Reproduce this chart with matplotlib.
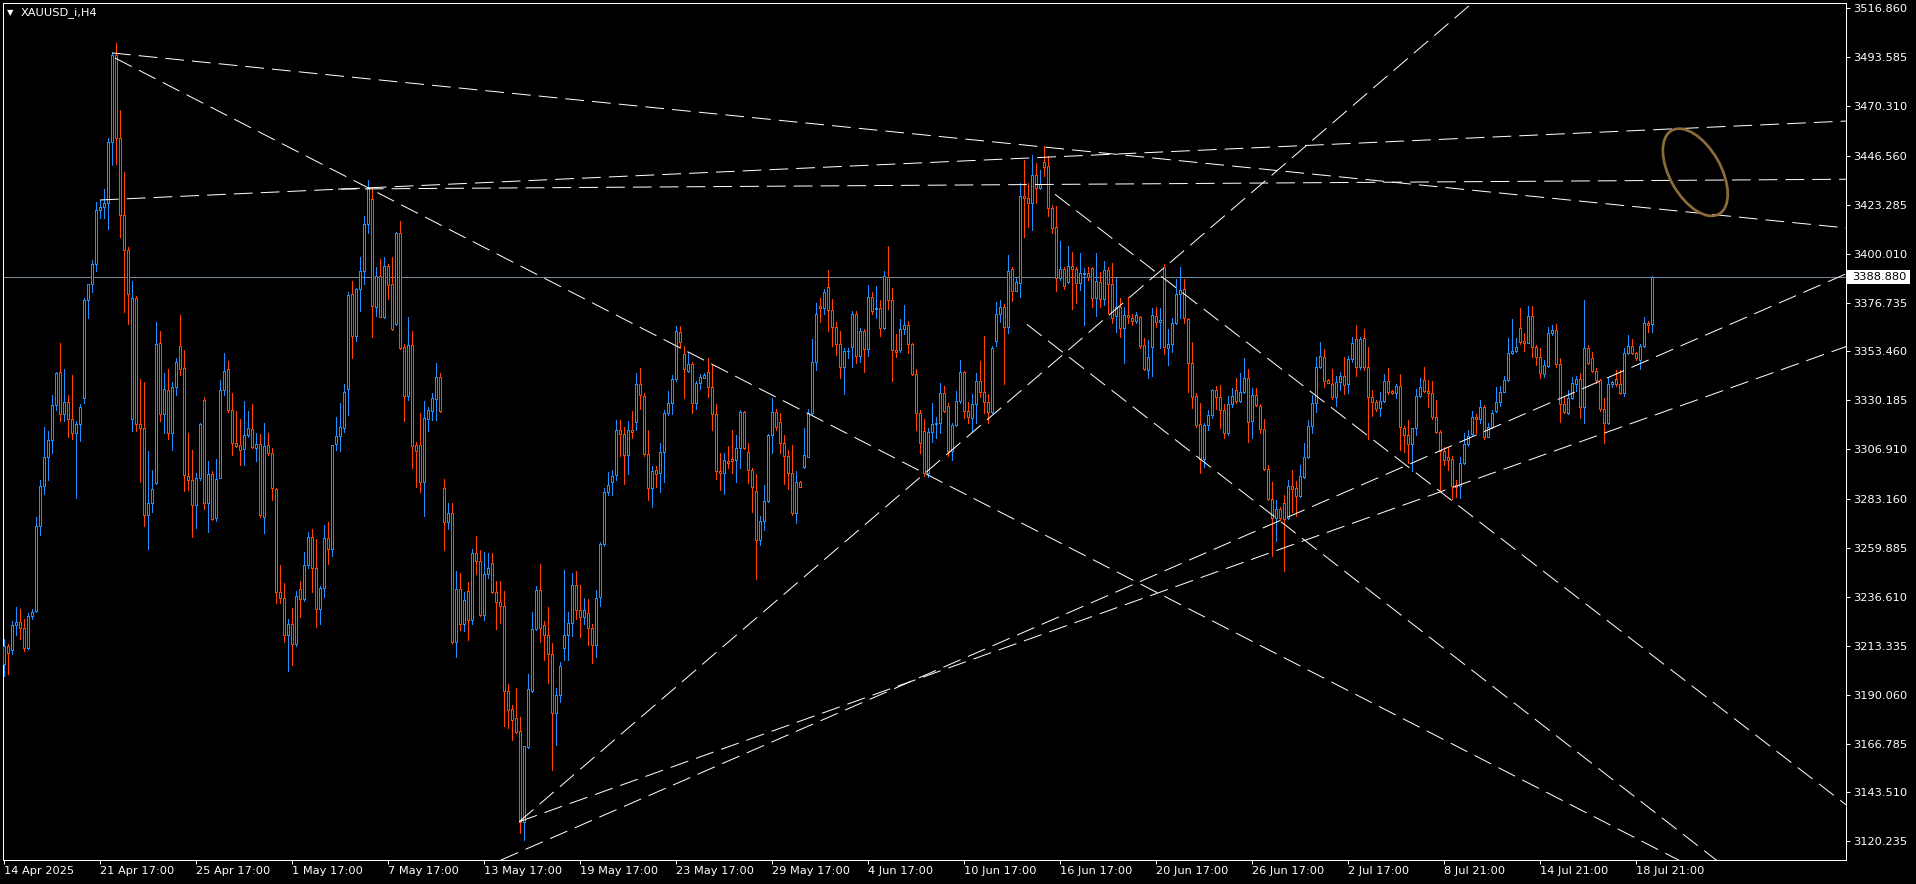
import matplotlib
matplotlib.use("Agg")
import matplotlib.pyplot as plt
import matplotlib.transforms as mtrans
from matplotlib.patches import Rectangle, Ellipse
from matplotlib.collections import LineCollection

W, H = 1916, 884
bull_color = "#1e90ff"
bear_color = "#ff4500"

# XAUUSD_i H4 bars, oldest first
opens = [
    3204.7, 3213.4, 3211.5, 3223.2, 3224.6, 3221.8, 3212.5, 3227.7, 3230.0, 3270.3,
    3289.4, 3303.0, 3311.4, 3328.0, 3343.9, 3323.5, 3329.3, 3321.2, 3314.7, 3319.0,
    3331.3, 3378.0, 3385.4, 3394.9, 3420.6, 3422.4, 3424.3, 3453.0, 3494.4, 3454.9,
    3418.5, 3401.8, 3321.5, 3379.0, 3319.0, 3317.2, 3275.8, 3281.2, 3290.7, 3357.6,
    3323.5, 3335.2, 3314.7, 3336.5, 3356.0, 3345.5, 3294.3, 3292.3, 3280.6, 3293.3,
    3330.3, 3281.2, 3295.2, 3274.4, 3293.3, 3335.2, 3345.3, 3325.4, 3309.9, 3308.9,
    3307.0, 3313.8, 3316.7, 3307.5, 3309.3, 3274.8, 3308.9, 3305.0, 3288.0, 3238.8,
    3236.2, 3218.3, 3223.6, 3214.0, 3240.5, 3235.8, 3251.8, 3265.0, 3250.4, 3231.0,
    3240.7, 3264.5, 3259.4, 3309.2, 3313.2, 3317.2, 3335.7, 3380.7, 3361.0, 3383.1,
    3392.0, 3414.1, 3426.0, 3374.6, 3389.3, 3370.1, 3394.1, 3385.6, 3366.5, 3409.7,
    3355.7, 3332.3, 3356.5, 3308.9, 3308.9, 3291.1, 3321.5, 3325.1, 3331.0, 3341.4,
    3288.3, 3272.4, 3276.6, 3215.0, 3240.5, 3223.5, 3239.4, 3225.6, 3257.5, 3253.7,
    3227.8, 3247.5, 3252.8, 3239.0, 3234.3, 3232.2, 3191.8, 3183.1, 3178.9, 3172.7,
    3129.6, 3165.3, 3191.8, 3221.4, 3239.7, 3223.1, 3218.4, 3209.3, 3181.2, 3189.7,
    3212.5, 3218.4, 3224.2, 3242.2, 3230.5, 3226.9, 3229.0, 3221.6, 3213.9, 3236.5,
    3262.0, 3286.6, 3291.5, 3294.7, 3316.2, 3314.0, 3304.3, 3316.2, 3319.8, 3337.8,
    3332.5, 3304.5, 3288.5, 3297.0, 3295.8, 3305.4, 3324.0, 3328.8, 3340.2, 3362.6,
    3352.1, 3344.3, 3347.4, 3328.8, 3338.3, 3341.0, 3343.5, 3336.4, 3323.5, 3296.6,
    3295.4, 3301.5, 3302.1, 3301.8, 3307.4, 3324.6, 3305.4, 3297.0, 3287.2, 3263.7,
    3272.8, 3282.3, 3313.5, 3324.5, 3320.0, 3309.7, 3303.7, 3295.4, 3276.7, 3291.2,
    3298.6, 3303.4, 3324.0, 3348.3, 3375.1, 3374.3, 3384.0, 3373.2, 3365.0, 3356.9,
    3345.9, 3353.5, 3355.8, 3371.2, 3351.3, 3363.2, 3354.5, 3379.2, 3373.5, 3374.0,
    3364.5, 3388.8, 3378.0, 3354.2, 3354.2, 3364.0, 3366.1, 3356.9, 3342.6, 3324.0,
    3315.6, 3295.8, 3315.0, 3318.8, 3319.3, 3333.5, 3327.7, 3306.2, 3318.5, 3329.9,
    3343.5, 3325.1, 3321.6, 3328.3, 3339.6, 3334.0, 3329.3, 3324.5, 3358.5, 3371.2,
    3374.8, 3365.3, 3392.6, 3382.4, 3386.2, 3427.5, 3426.4, 3424.3, 3437.5, 3431.1,
    3443.5, 3441.8, 3421.6, 3412.6, 3388.3, 3392.6, 3386.7, 3394.2, 3392.6, 3385.9,
    3390.2, 3390.7, 3393.1, 3378.8, 3386.4, 3378.3, 3392.3, 3385.4, 3370.5, 3374.5,
    3364.5, 3370.8, 3369.3, 3368.1, 3369.7, 3356.6, 3344.6, 3355.8, 3370.5, 3367.7,
    3393.5, 3355.3, 3356.9, 3366.9, 3380.8, 3383.0, 3368.8, 3347.8, 3332.4, 3318.8,
    3302.1, 3318.5, 3323.2, 3335.1, 3331.9, 3325.6, 3314.5, 3328.5, 3335.1, 3330.0,
    3334.3, 3340.7, 3320.4, 3332.7, 3327.5, 3316.6, 3297.4, 3283.1, 3274.3, 3278.3,
    3281.5, 3274.0, 3289.4, 3288.3, 3284.8, 3293.9, 3303.1, 3318.0, 3328.8, 3345.9,
    3350.7, 3339.9, 3337.8, 3332.0, 3338.8, 3341.8, 3337.8, 3349.7, 3359.2, 3345.9,
    3359.7, 3345.9, 3331.6, 3329.2, 3326.4, 3330.0, 3339.5, 3334.6, 3333.9, 3337.2,
    3316.9, 3313.7, 3309.3, 3316.9, 3332.3, 3339.9, 3334.8, 3333.9, 3322.1, 3315.3,
    3306.1, 3303.1, 3302.1, 3289.9, 3289.4, 3300.2, 3309.3, 3314.2, 3322.1, 3321.2,
    3326.9, 3312.9, 3317.4, 3325.3, 3329.6, 3334.3, 3339.9, 3352.6, 3353.7, 3364.5,
    3358.4, 3357.7, 3370.4, 3355.4, 3351.0, 3342.7, 3346.7, 3362.1, 3363.7, 3347.3,
    3328.3, 3324.0, 3331.5, 3338.0, 3340.2, 3326.9, 3354.9, 3350.2, 3344.2, 3339.9,
    3325.9, 3319.3, 3337.8, 3340.2, 3337.8, 3333.5, 3352.6, 3356.2, 3352.6, 3349.4,
    3356.2, 3366.9, 3366.5,
]
highs = [
    3216.4, 3214.4, 3225.1, 3232.0, 3231.0, 3226.1, 3229.1, 3231.0, 3274.8, 3292.3,
    3317.6, 3315.7, 3332.6, 3343.9, 3357.6, 3345.3, 3332.6, 3342.4, 3320.6, 3328.4,
    3379.0, 3385.8, 3397.1, 3424.7, 3425.7, 3430.6, 3454.9, 3495.8, 3500.3, 3468.5,
    3438.8, 3403.3, 3386.8, 3379.9, 3340.4, 3339.1, 3306.0, 3297.2, 3367.7, 3363.4,
    3343.0, 3344.9, 3338.7, 3350.2, 3370.6, 3354.2, 3314.7, 3306.4, 3295.6, 3319.6,
    3331.7, 3301.1, 3296.6, 3302.5, 3340.0, 3352.7, 3348.8, 3333.8, 3324.9, 3321.5,
    3329.9, 3324.9, 3328.4, 3314.7, 3314.3, 3319.6, 3314.7, 3307.5, 3288.4, 3251.8,
    3243.2, 3226.1, 3231.4, 3239.3, 3244.2, 3258.2, 3267.4, 3269.0, 3264.1, 3241.7,
    3270.9, 3272.3, 3308.9, 3322.5, 3328.9, 3337.8, 3381.8, 3387.1, 3383.5, 3398.4,
    3417.9, 3434.9, 3430.7, 3393.5, 3397.3, 3398.4, 3395.2, 3398.4, 3410.5, 3415.4,
    3357.0, 3369.7, 3363.3, 3310.2, 3324.4, 3330.0, 3327.2, 3333.6, 3348.0, 3343.1,
    3292.8, 3281.5, 3281.5, 3249.0, 3247.9, 3239.0, 3243.7, 3259.2, 3265.6, 3258.8,
    3258.1, 3257.5, 3257.5, 3244.3, 3244.3, 3239.4, 3195.0, 3185.3, 3193.3, 3179.5,
    3165.7, 3199.7, 3229.5, 3241.6, 3252.4, 3225.2, 3231.6, 3214.6, 3193.3, 3205.7,
    3249.6, 3229.5, 3247.9, 3249.0, 3242.2, 3236.2, 3235.4, 3223.7, 3240.1, 3262.8,
    3288.5, 3296.0, 3296.8, 3320.8, 3320.8, 3317.6, 3320.4, 3325.1, 3343.1, 3345.7,
    3333.6, 3316.2, 3299.1, 3299.1, 3309.8, 3325.6, 3334.8, 3342.3, 3365.8, 3365.8,
    3356.3, 3352.6, 3348.3, 3339.4, 3342.6, 3343.1, 3350.2, 3347.3, 3328.5, 3305.3,
    3305.0, 3308.5, 3316.1, 3313.7, 3325.6, 3325.1, 3310.1, 3298.1, 3295.1, 3275.1,
    3289.9, 3314.0, 3331.2, 3326.1, 3324.0, 3313.7, 3306.6, 3308.9, 3296.5, 3291.8,
    3316.9, 3326.1, 3359.4, 3376.7, 3379.1, 3383.2, 3392.3, 3378.5, 3367.3, 3363.2,
    3354.9, 3355.3, 3372.7, 3372.7, 3364.8, 3364.0, 3385.1, 3381.9, 3384.8, 3378.0,
    3391.8, 3403.7, 3383.5, 3361.8, 3368.8, 3375.6, 3368.0, 3357.7, 3345.1, 3325.6,
    3321.2, 3316.9, 3328.8, 3322.4, 3338.3, 3337.2, 3328.8, 3319.6, 3334.8, 3349.4,
    3344.2, 3329.6, 3333.1, 3343.4, 3349.1, 3360.8, 3333.1, 3356.1, 3377.2, 3378.0,
    3376.1, 3399.4, 3393.8, 3388.3, 3433.8, 3444.6, 3433.5, 3447.0, 3443.1, 3439.9,
    3451.3, 3446.5, 3423.2, 3422.7, 3406.0, 3393.8, 3403.7, 3401.0, 3393.8, 3400.2,
    3393.1, 3393.8, 3393.8, 3400.2, 3391.5, 3396.5, 3393.8, 3395.7, 3388.3, 3378.8,
    3374.8, 3379.6, 3371.2, 3372.1, 3370.4, 3359.7, 3358.9, 3374.0, 3374.8, 3374.0,
    3395.1, 3364.0, 3369.3, 3388.0, 3393.8, 3388.0, 3369.3, 3358.1, 3333.5, 3329.1,
    3319.6, 3325.6, 3335.4, 3337.2, 3337.5, 3328.3, 3332.4, 3336.2, 3340.7, 3343.1,
    3350.5, 3345.0, 3336.2, 3335.9, 3328.5, 3321.2, 3299.4, 3291.5, 3282.8, 3279.6,
    3285.1, 3292.3, 3297.0, 3291.8, 3299.4, 3309.7, 3320.8, 3332.8, 3351.0, 3358.1,
    3354.6, 3340.2, 3345.1, 3342.0, 3343.8, 3351.0, 3351.3, 3360.2, 3366.1, 3360.2,
    3364.2, 3355.7, 3335.1, 3330.4, 3334.3, 3342.6, 3345.4, 3335.1, 3337.8, 3342.6,
    3318.0, 3320.8, 3317.2, 3335.4, 3341.0, 3345.9, 3339.9, 3339.4, 3330.4, 3316.1,
    3308.1, 3308.1, 3303.7, 3292.3, 3303.1, 3314.8, 3316.1, 3325.1, 3323.7, 3330.4,
    3328.0, 3319.6, 3325.6, 3336.7, 3337.2, 3341.8, 3359.7, 3368.9, 3359.7, 3374.0,
    3362.1, 3375.1, 3375.1, 3356.5, 3355.0, 3349.4, 3365.0, 3366.1, 3366.5, 3350.2,
    3332.0, 3335.1, 3341.5, 3341.9, 3343.1, 3378.0, 3356.5, 3353.4, 3345.4, 3340.2,
    3331.2, 3341.5, 3339.6, 3344.6, 3344.6, 3355.0, 3361.3, 3359.2, 3353.4, 3356.9,
    3370.0, 3368.1, 3389.4,
]
lows = [
    3199.0, 3200.0, 3209.6, 3218.3, 3216.4, 3210.9, 3212.0, 3226.1, 3229.5, 3266.0,
    3285.5, 3292.3, 3305.0, 3325.4, 3320.6, 3320.6, 3312.8, 3311.8, 3283.6, 3310.8,
    3328.9, 3369.2, 3381.9, 3391.6, 3416.9, 3416.9, 3411.7, 3442.2, 3442.6, 3408.2,
    3372.2, 3366.7, 3315.7, 3315.7, 3291.3, 3270.5, 3259.6, 3277.1, 3290.4, 3320.6,
    3314.7, 3311.8, 3306.4, 3332.6, 3342.4, 3286.9, 3287.5, 3265.0, 3269.4, 3292.3,
    3278.7, 3267.4, 3273.4, 3272.9, 3293.0, 3332.6, 3324.5, 3304.4, 3307.9, 3299.2,
    3299.2, 3312.8, 3307.3, 3301.1, 3274.8, 3267.0, 3304.0, 3282.6, 3233.9, 3233.9,
    3215.0, 3201.2, 3204.1, 3213.4, 3227.1, 3234.9, 3250.4, 3238.8, 3222.2, 3223.8,
    3236.8, 3252.4, 3256.3, 3306.6, 3306.0, 3314.9, 3323.4, 3350.2, 3358.4, 3372.9,
    3385.6, 3410.1, 3360.2, 3370.3, 3369.7, 3369.3, 3378.6, 3363.8, 3365.9, 3354.8,
    3320.6, 3330.4, 3297.9, 3288.9, 3286.8, 3275.1, 3315.5, 3320.8, 3320.8, 3324.7,
    3258.8, 3268.8, 3214.6, 3207.8, 3221.0, 3220.5, 3216.1, 3223.7, 3247.5, 3227.3,
    3225.6, 3245.4, 3238.4, 3221.4, 3224.1, 3175.3, 3174.2, 3168.5, 3171.7, 3124.3,
    3121.1, 3164.6, 3191.2, 3221.0, 3215.0, 3206.5, 3195.5, 3154.4, 3166.1, 3186.5,
    3206.5, 3206.7, 3217.8, 3226.3, 3217.3, 3223.5, 3213.9, 3205.0, 3208.2, 3232.2,
    3260.9, 3285.3, 3285.1, 3292.1, 3303.8, 3290.4, 3295.3, 3312.1, 3315.9, 3326.1,
    3303.8, 3282.6, 3279.4, 3288.9, 3286.8, 3291.2, 3323.2, 3323.5, 3339.6, 3355.3,
    3331.5, 3343.5, 3324.0, 3326.1, 3335.4, 3341.0, 3331.9, 3316.1, 3292.6, 3287.5,
    3285.5, 3297.9, 3295.8, 3291.5, 3298.2, 3307.0, 3291.0, 3277.2, 3245.1, 3261.3,
    3268.5, 3281.9, 3305.0, 3316.1, 3305.0, 3290.2, 3287.8, 3275.6, 3271.6, 3288.8,
    3298.1, 3303.1, 3323.2, 3344.7, 3367.3, 3371.2, 3363.4, 3356.1, 3351.8, 3341.0,
    3333.1, 3350.5, 3346.2, 3348.1, 3348.3, 3343.9, 3351.3, 3371.2, 3369.3, 3361.0,
    3364.2, 3373.7, 3339.6, 3350.7, 3353.4, 3361.8, 3352.6, 3342.3, 3316.1, 3305.0,
    3294.2, 3293.9, 3310.5, 3312.1, 3314.8, 3324.5, 3303.7, 3301.8, 3318.0, 3329.1,
    3321.6, 3319.3, 3315.3, 3319.3, 3331.9, 3324.3, 3319.3, 3324.0, 3356.3, 3367.7,
    3338.0, 3362.4, 3377.5, 3382.3, 3379.6, 3408.1, 3412.9, 3411.3, 3424.0, 3430.7,
    3437.0, 3418.0, 3409.7, 3382.4, 3387.5, 3383.0, 3385.9, 3373.7, 3376.4, 3382.7,
    3366.1, 3387.5, 3374.8, 3370.4, 3374.8, 3375.6, 3371.9, 3367.2, 3362.9, 3360.2,
    3347.8, 3366.9, 3366.1, 3366.9, 3355.0, 3344.6, 3340.7, 3341.8, 3365.3, 3355.3,
    3352.1, 3347.0, 3353.4, 3366.4, 3369.3, 3366.9, 3334.3, 3326.4, 3317.7, 3295.4,
    3298.6, 3316.1, 3321.6, 3325.9, 3316.9, 3312.1, 3313.7, 3327.2, 3329.1, 3329.6,
    3333.5, 3310.2, 3312.1, 3327.5, 3314.8, 3297.0, 3282.8, 3256.1, 3263.4, 3273.2,
    3248.9, 3273.7, 3277.2, 3275.1, 3284.3, 3293.1, 3302.6, 3314.5, 3324.8, 3345.4,
    3336.7, 3338.3, 3330.8, 3327.7, 3335.1, 3333.2, 3333.8, 3348.6, 3341.8, 3345.1,
    3344.6, 3311.6, 3322.7, 3325.3, 3322.9, 3329.6, 3333.2, 3333.2, 3331.2, 3306.6,
    3305.8, 3300.5, 3296.6, 3313.7, 3332.0, 3334.3, 3327.2, 3321.3, 3314.8, 3287.0,
    3299.4, 3297.0, 3283.1, 3284.3, 3283.5, 3299.7, 3308.5, 3313.7, 3314.8, 3319.3,
    3311.6, 3312.6, 3316.9, 3324.8, 3327.5, 3334.0, 3339.4, 3352.1, 3353.4, 3357.0,
    3353.7, 3357.3, 3350.7, 3347.0, 3341.0, 3341.5, 3345.9, 3361.3, 3346.2, 3320.0,
    3324.3, 3323.7, 3330.8, 3334.8, 3321.9, 3319.6, 3347.4, 3343.9, 3338.3, 3325.1,
    3309.7, 3318.8, 3336.7, 3337.0, 3333.2, 3332.3, 3352.3, 3352.3, 3349.4, 3345.1,
    3355.8, 3362.9, 3362.9,
]
closes = [
    3213.4, 3210.1, 3223.2, 3224.6, 3221.8, 3212.5, 3227.7, 3229.2, 3270.3, 3289.4,
    3303.0, 3311.4, 3328.0, 3343.0, 3323.5, 3329.3, 3321.2, 3314.7, 3319.0, 3327.0,
    3378.0, 3385.4, 3394.9, 3420.6, 3422.4, 3424.3, 3453.0, 3494.4, 3454.9, 3418.5,
    3401.8, 3380.9, 3379.0, 3319.0, 3317.2, 3275.8, 3281.2, 3287.8, 3357.0, 3323.5,
    3335.5, 3314.7, 3336.5, 3348.4, 3344.9, 3294.7, 3292.3, 3280.6, 3293.3, 3319.0,
    3281.2, 3295.2, 3273.8, 3292.9, 3335.2, 3344.3, 3325.4, 3309.9, 3308.5, 3306.4,
    3313.8, 3317.1, 3307.9, 3309.3, 3275.4, 3308.3, 3305.0, 3288.4, 3238.8, 3236.2,
    3218.3, 3223.6, 3214.0, 3237.2, 3235.8, 3251.8, 3265.0, 3250.4, 3231.0, 3240.7,
    3264.5, 3259.2, 3309.0, 3313.2, 3317.6, 3334.2, 3380.3, 3361.0, 3383.1, 3392.0,
    3414.1, 3431.3, 3375.0, 3389.3, 3370.1, 3394.1, 3385.0, 3364.4, 3409.7, 3355.3,
    3332.3, 3356.5, 3308.5, 3306.0, 3291.1, 3321.9, 3325.7, 3331.5, 3341.4, 3325.1,
    3272.4, 3276.6, 3215.0, 3240.5, 3223.5, 3235.2, 3225.6, 3257.5, 3253.7, 3227.8,
    3247.5, 3250.3, 3239.0, 3234.3, 3232.2, 3191.8, 3182.7, 3177.8, 3172.5, 3129.6,
    3165.7, 3192.7, 3221.4, 3239.7, 3222.0, 3218.4, 3209.3, 3181.2, 3189.7, 3203.5,
    3218.4, 3224.2, 3242.2, 3230.5, 3226.9, 3230.5, 3221.6, 3213.9, 3236.2, 3262.0,
    3286.6, 3290.0, 3294.3, 3316.2, 3314.0, 3304.3, 3316.2, 3315.1, 3337.8, 3332.9,
    3304.5, 3288.5, 3296.4, 3295.3, 3305.5, 3324.0, 3328.8, 3340.2, 3363.2, 3357.8,
    3345.0, 3347.4, 3328.8, 3338.3, 3341.2, 3342.3, 3336.4, 3323.5, 3296.6, 3295.4,
    3301.8, 3300.5, 3301.5, 3307.4, 3324.6, 3307.4, 3297.0, 3288.8, 3263.7, 3272.8,
    3282.3, 3313.5, 3324.5, 3317.7, 3309.7, 3303.7, 3295.4, 3276.7, 3291.2, 3289.1,
    3304.2, 3324.0, 3348.3, 3371.2, 3374.3, 3381.6, 3373.2, 3365.3, 3356.9, 3345.9,
    3353.7, 3353.9, 3371.2, 3351.3, 3363.2, 3354.5, 3379.2, 3372.7, 3374.0, 3364.5,
    3389.4, 3378.0, 3354.2, 3353.1, 3364.0, 3366.1, 3356.9, 3342.6, 3324.0, 3309.7,
    3295.8, 3315.0, 3318.8, 3319.3, 3333.5, 3325.3, 3306.2, 3318.5, 3329.9, 3343.5,
    3325.1, 3322.4, 3328.3, 3339.6, 3334.0, 3329.3, 3324.5, 3354.9, 3371.2, 3374.5,
    3365.3, 3391.9, 3382.4, 3386.7, 3427.6, 3426.4, 3424.3, 3437.5, 3431.1, 3433.2,
    3441.5, 3421.6, 3412.4, 3388.3, 3392.6, 3384.8, 3394.2, 3392.6, 3385.9, 3390.7,
    3390.7, 3388.8, 3378.8, 3387.0, 3378.3, 3392.3, 3385.4, 3369.6, 3374.5, 3364.5,
    3370.8, 3369.7, 3368.1, 3370.8, 3356.2, 3345.0, 3351.0, 3370.8, 3367.7, 3368.5,
    3355.4, 3356.9, 3366.9, 3380.8, 3382.7, 3369.3, 3347.8, 3332.0, 3318.4, 3302.1,
    3318.5, 3323.2, 3335.1, 3331.6, 3325.6, 3314.8, 3328.5, 3332.3, 3330.0, 3334.3,
    3341.0, 3320.0, 3332.7, 3328.0, 3316.4, 3297.4, 3283.1, 3274.3, 3278.3, 3274.0,
    3273.5, 3289.4, 3287.8, 3284.8, 3294.2, 3303.1, 3318.0, 3328.8, 3345.9, 3351.3,
    3339.6, 3338.6, 3332.0, 3338.8, 3341.8, 3337.5, 3349.7, 3357.3, 3345.9, 3359.2,
    3345.9, 3332.0, 3329.2, 3325.9, 3330.0, 3339.5, 3334.3, 3333.9, 3337.2, 3317.4,
    3313.7, 3309.3, 3316.9, 3332.3, 3336.4, 3334.8, 3333.9, 3322.1, 3315.3, 3306.1,
    3301.8, 3301.8, 3289.6, 3289.1, 3300.2, 3309.3, 3313.4, 3322.1, 3321.2, 3326.9,
    3312.9, 3317.4, 3324.0, 3329.6, 3334.3, 3339.9, 3352.6, 3353.7, 3355.4, 3358.1,
    3357.7, 3370.4, 3355.4, 3351.0, 3343.4, 3347.0, 3362.1, 3363.7, 3347.3, 3328.3,
    3324.8, 3331.5, 3338.3, 3340.2, 3326.9, 3354.9, 3347.8, 3344.2, 3339.9, 3325.9,
    3319.3, 3337.8, 3338.8, 3337.8, 3333.5, 3352.6, 3356.2, 3352.6, 3350.2, 3356.2,
    3366.9, 3366.1, 3388.88,
]

bid_price = 3388.88

price_ticks = [3516.860, 3493.585, 3470.310, 3446.560, 3423.285, 3400.010,
               3376.735, 3353.460, 3330.185, 3306.910, 3283.160, 3259.885,
               3236.610, 3213.335, 3190.060, 3166.785, 3143.510, 3120.235]

time_labels = ["14 Apr 2025", "21 Apr 17:00", "25 Apr 17:00", "1 May 17:00",
               "7 May 17:00", "13 May 17:00", "19 May 17:00", "23 May 17:00",
               "29 May 17:00", "4 Jun 17:00", "10 Jun 17:00", "16 Jun 17:00",
               "20 Jun 17:00", "26 Jun 17:00", "2 Jul 17:00", "8 Jul 21:00",
               "14 Jul 21:00", "18 Jul 21:00"]
bars_per_label = 24

# trend lines: start bar, start price, slope ($ per bar)
trend_start_bar = [27.1, 27.85, 24.1, 83.6, 128.9, 124.35, 128.9, 255.8, 262.85]
trend_start_price = [3495.6, 3493.2, 3425.6, 3430.8, 3129.6, 3111.35, 3129.6, 3366.4, 3428.3]
trend_slope = [-0.1922, -0.977, 0.0861, 0.0124, 1.636, 0.830, 0.682, -1.480, -1.470]

plt.rcParams["lines.scale_dashes"] = False

fig = plt.figure(figsize=(W / 100, H / 100), dpi=100, facecolor="black")
ax = fig.add_axes([2.7 / W, (H - 860) / H, (1845.7 - 2.7) / W, (860 - 2.7) / H])
ax.set_facecolor("black")
ax.set_xlim(-0.225, 460.5)
ax.set_ylim(3111.35, 3519.53)

px = 0.72  # one pixel in points

# candles
segs, cols = [], []
for i in range(len(opens)):
    o, h, l, c = opens[i], highs[i], lows[i], closes[i]
    col = bull_color if c >= o else bear_color
    segs.append([(i, min(l, o, c)), (i, max(h, o, c))])
    cols.append(col)
ax.add_collection(LineCollection(segs, colors=cols, linewidths=px,
                                 antialiaseds=False, zorder=2))
for i in range(len(opens)):
    o, c = opens[i], closes[i]
    col = bull_color if c >= o else bear_color
    ax.add_patch(Rectangle((i - 0.25, min(o, c)), 0.5, abs(c - o),
                           facecolor="black", edgecolor=col, lw=px,
                           antialiased=False, zorder=3))

# trend lines
for x0, p0, s in zip(trend_start_bar, trend_start_price, trend_slope):
    x1 = 480
    ax.plot([x0, x1], [p0, p0 + s * (x1 - x0)], color="white", lw=0.72,
            dashes=(13.5, 5.8), antialiased=True, zorder=4)

# bid line
ax.axhline(bid_price, color="#778899", lw=px, antialiased=False, zorder=1)

# axes styling
for sp in ax.spines.values():
    sp.set_color("white")
    sp.set_linewidth(px)
ax.yaxis.tick_right()
ax.set_yticks(price_ticks)
ax.set_yticklabels([f"{p:.3f}" for p in price_ticks])
ax.set_xticks(range(0, bars_per_label * len(time_labels), bars_per_label))
ax.set_xticklabels(time_labels, ha="left")
ax.tick_params(colors="white", labelcolor="white", labelsize=8.2,
               length=3, width=px, pad=1.5)
ax.tick_params(axis="y", pad=2.5)

# bid label box on the price scale
blend = mtrans.blended_transform_factory(ax.transAxes, ax.transData)
ax.add_patch(Rectangle((1.0006, bid_price - 3.2), 0.0345, 6.4, transform=blend,
                       facecolor="white", edgecolor="white", lw=0,
                       clip_on=False, zorder=6))
ax.text(1.0035, bid_price, f"{bid_price:.3f}", transform=blend, color="black",
        fontsize=8.2, ha="left", va="center", clip_on=False, zorder=7)

# title
fig.text(6.5 / W, 1 - 12.5 / H, "\u25bc", color="white", fontsize=6, va="center")
fig.text(20.5 / W, 1 - 12.5 / H, "XAUUSD_i,H4", color="white", fontsize=8.2,
         va="center")

# hand-drawn ellipse marker
ov = fig.add_axes([0, 0, 1, 1])
ov.set_xlim(0, W)
ov.set_ylim(H, 0)
ov.axis("off")
ov.patch.set_alpha(0)
ov.add_patch(Ellipse((1695.3, 172.3), 96, 51, angle=60.5, fill=False,
                     edgecolor="#8b6b3a", lw=1.95))

fig.savefig("out.png", dpi=100, facecolor="black")
